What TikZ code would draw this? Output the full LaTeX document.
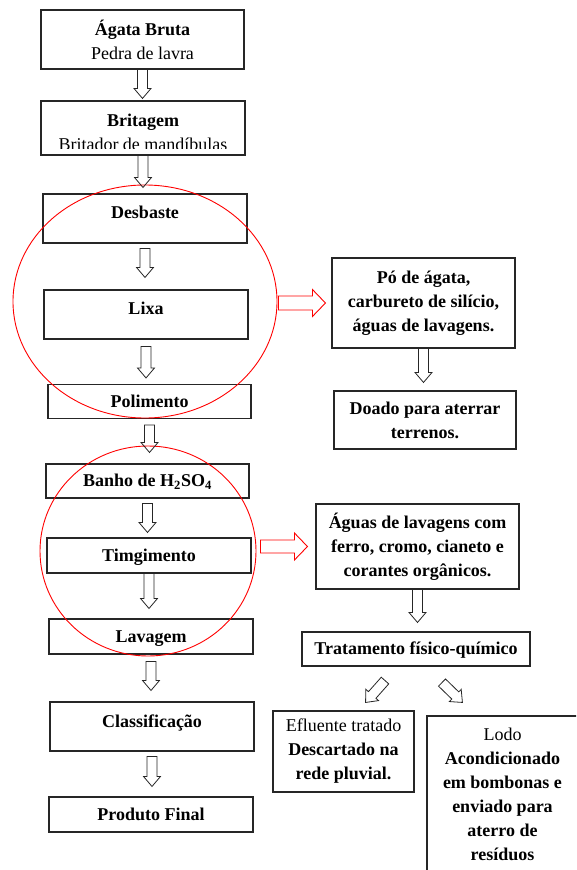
\documentclass[tikz,border=0pt]{standalone}
\usepackage{fontspec}
\setmainfont{Liberation Serif}
\usetikzlibrary{calc,shapes.geometric}
\tikzset{
 box/.style={draw=black!85, line width=1.1pt, inner sep=0pt, align=center, font=\bfseries\fontsize{18}{24}\selectfont},
 wh/.style 2 args={minimum width=#1pt, minimum height=#2pt},
 lift/.style={text height=11pt, text depth=#1pt},
 ring/.style={ellipse, draw=red, line width=0.9pt, inner sep=0pt},
 barr/.style={draw=black!85, line width=0.8pt, line join=miter},
 rarr/.style={draw=red, line width=0.9pt, line join=miter},
}
\newcommand{\blockarr}[6]{%
 \path let \p1=(#2), \p2=(#3), \n1={atan2(\y2-\y1,\x2-\x1)}, \n2={veclen(\x2-\x1,\y2-\y1)} in
  \pgfextra{\xdef\bAang{\n1}\xdef\bAlen{\n2}\xdef\bAx{\x1}\xdef\bAy{\y1}};
 \draw[#1,shift={(\bAx,\bAy)},rotate=\bAang] (0,-#4) -- ({\bAlen-#6},-#4) -- ({\bAlen-#6},-#5) -- (\bAlen,0) -- ({\bAlen-#6},#5) -- ({\bAlen-#6},#4) -- (0,#4) -- cycle;}
\newcommand{\varr}[4]{%
 \coordinate (tmpS) at ($(#1.south)+(0,-#3)$);
 \coordinate (tmpE) at ($(#2.north)+(0,#4)$);
 \blockarr{barr}{tmpS}{tmpS|-tmpE}{5}{8.5}{10}}
\begin{document}
\begin{tikzpicture}[x=1pt,y=1pt]
\clip (0,0) rectangle (576,-870);
\fill[white] (0,0) rectangle (576,-870);
% left column
\node[box,wh={203}{59}] (n1) at (142.5,-39.5) {Ágata Bruta\\{\mdseries Pedra de lavra}};
\node[box,wh={204}{54}] (n2) at (143,-128) {};
\begin{scope}
\clip (41,-101) rectangle (245,-148);
\node[box,draw=none] (n2t) at (143,-132.2) {Britagem\\{\mdseries Britador de mandíbulas}};
\end{scope}
\node[box,lift=11,wh={204}{49}] (n3) at (145,-218.5) {Desbaste};
\node[box,lift=11,wh={204}{49}] (n4) at (146,-314.5) {Lixa};
\node[box,lift=0,wh={203}{34}] (n5) at (149.5,-401.5) {Polimento};
\node[box,lift=0,wh={203}{34}] (n6) at (147.5,-481) {Banho de H\textsubscript{2}SO\textsubscript{4}};
\node[box,lift=0,wh={204}{35}] (n7) at (149,-555.5) {Timgimento};
\node[box,lift=0,wh={204}{35}] (n8) at (151,-636.5) {Lavagem};
\node[box,lift=9,wh={204}{49}] (n9) at (152,-726.5) {Classificação};
\node[box,lift=0,wh={204}{35}] (n10) at (151,-814.5) {Produto Final};
% right column
\node[box,wh={183}{90}] (A) at (423.5,-303) {Pó de ágata,\\carbureto de silício,\\águas de lavagens.};
\node[box,wh={182}{58}] (B) at (425,-420) {Doado para aterrar\\terrenos.};
\node[box,wh={203}{85}] (C) at (417.5,-546.5) {Águas de lavagens com\\ferro, cromo, cianeto e\\corantes orgânicos.};
\node[box,lift=0,wh={228}{34}] (D) at (416,-649) {Tratamento físico-químico};
\node[box,wh={141}{81}] (E) at (343.5,-751.5) {{\mdseries Efluente tratado}\\Descartado na\\rede pluvial.};
\node[box,wh={151}{157}] (F) at (502.5,-794.5) {{\mdseries Lodo}\\Acondicionado\\em bombonas e\\enviado para\\aterro de\\resíduos};
% rings
\node[ring,wh={264}{233}] (c1) at (145,-301.5) {};
\node[ring,wh={216}{210}] (c2) at (148,-551) {};
% vertical arrows
\varr{n1}{n2}{0}{2}
\varr{n2}{n3}{0}{6}
\varr{n3}{n4}{5}{12}
\varr{n4}{n5}{7}{6}
\varr{n5}{n6}{6}{11}
\varr{n6}{n7}{5}{5}
\varr{n7}{n8}{0}{10}
\varr{n8}{n9}{7}{11}
\varr{n9}{n10}{5}{10}
\varr{A}{B}{0}{8}
\varr{C}{D}{0}{9}
% red arrows
\coordinate (r1s) at ($(c1.east)+(1,-1.5)$);
\coordinate (r1e) at ($(A.west)+(-6,0)$);
\blockarr{rarr}{r1s}{r1e}{7}{13.5}{13}
\coordinate (r2s) at ($(c2.east)+(4,4.5)$);
\coordinate (r2e) at ($(C.west)+(-8,0)$);
\blockarr{rarr}{r2s}{r2e}{6.5}{13.5}{13}
% diagonal arrows
\coordinate (d1s) at ($(D.south)+(-31,-14)$);
\coordinate (d1e) at ($(E.north east)+(-49,8)$);
\blockarr{barr}{d1s}{d1e}{5}{8.5}{10}
\coordinate (d2s) at ($(D.south)+(26,-16)$);
\coordinate (d2e) at ($(F.north west)+(36,13)$);
\blockarr{barr}{d2s}{d2e}{5}{8.5}{10}
\end{tikzpicture}
\end{document}
